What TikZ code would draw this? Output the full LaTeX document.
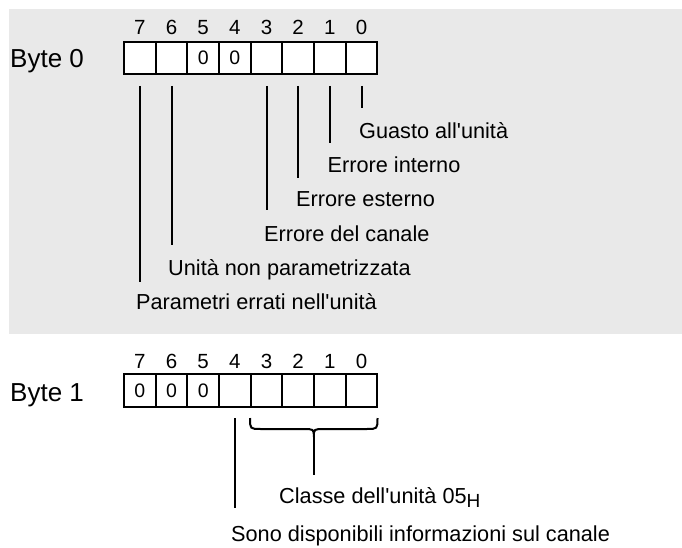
\documentclass[tikz,border=0pt]{standalone}
\usepackage{fontspec}
\setmainfont{Liberation Sans}
\definecolor{bggray}{HTML}{E9E9E9}
\newcommand{\apos}{\textquotesingle}
\begin{document}
\begin{tikzpicture}[x=1pt,y=-1pt,
  cell/.style={draw=black, line width=1.9, fill=white, minimum width=31.67, minimum height=32, inner sep=0,
     font=\fontsize{19.5}{19.5}\selectfont, text height=14, text depth=0},
  bitnum/.style={anchor=base, inner sep=0, font=\fontsize{20.5}{20.5}\selectfont},
  bytelbl/.style={anchor=base west, inner sep=0, font=\fontsize{26}{26}\selectfont},
  lbl/.style={anchor=base west, inner sep=0, font=\fontsize{21.7}{21.7}\selectfont},
  tick/.style={draw=black, line width=2}]
\useasboundingbox (0,0) rectangle (682,548);
\fill[bggray] (9,9) rectangle (682,334);

% Byte 0
\node[bytelbl] (byte0) at (10,67.3) {Byte 0};
\node[cell] (a7) at (139.83,58) {};
\node[cell] (a6) at (171.5,58) {};
\node[cell] (a5) at (203.17,58) {0};
\node[cell] (a4) at (234.83,58) {0};
\node[cell] (a3) at (266.5,58) {};
\node[cell] (a2) at (298.17,58) {};
\node[cell] (a1) at (329.83,58) {};
\node[cell] (a0) at (361.5,58) {};
\foreach \b in {7,6,5,4,3,2,1,0}{
  \node[bitnum] (na\b) at (a\b.center |- 0,34.3) {\b};
}

\coordinate (e7) at (a7.center |- 0,282);
\coordinate (e6) at (a6.center |- 0,245);
\coordinate (e3) at (a3.center |- 0,210);
\coordinate (e2) at (a2.center |- 0,178);
\coordinate (e1) at (a1.center |- 0,143);
\coordinate (e0) at (a0.center |- 0,108);
\foreach \b in {7,6,3,2,1,0}{
  \draw[tick] ([yshift=-11pt]a\b.south) -- (e\b);
}

\node[lbl] (l0) at (359,138.5) {Guasto all\apos unità};
\node[lbl] (l1) at (327.5,172.5) {Errore interno};
\node[lbl] (l2) at (296,206.5) {Errore esterno};
\node[lbl] (l3) at (264,241.5) {Errore del canale};
\node[lbl] (l6) at (168,275.5) {Unità non parametrizzata};
\node[lbl] (l7) at (136,309.5) {Parametri errati nell\apos unità};

% Byte 1
\node[bytelbl] (byte1) at (10,401.7) {Byte 1};
\node[cell, minimum height=33] (b7) at (139.83,390.8) {0};
\node[cell, minimum height=33] (b6) at (171.5,390.8) {0};
\node[cell, minimum height=33] (b5) at (203.17,390.8) {0};
\node[cell, minimum height=33] (b4) at (234.83,390.8) {};
\node[cell, minimum height=33] (b3) at (266.5,390.8) {};
\node[cell, minimum height=33] (b2) at (298.17,390.8) {};
\node[cell, minimum height=33] (b1) at (329.83,390.8) {};
\node[cell, minimum height=33] (b0) at (361.5,390.8) {};
\foreach \b in {7,6,5,4,3,2,1,0}{
  \node[bitnum] (nb\b) at (b\b.center |- 0,368) {\b};
}

\coordinate (f4) at (b4.center |- 0,508);
\draw[tick] ([yshift=-10pt]b4.south) -- (f4);

\coordinate (brL) at (250,418);
\coordinate (brR) at (377.5,418);
\coordinate (brT) at (313.8,437);
\coordinate (brE) at (313.8,475);
\draw[tick] (brL) .. controls (250,429) .. (261,429) -- (303,429)
  .. controls (313.8,429) .. (brT) .. controls (313.8,429) .. (324.5,429)
  -- (366.5,429) .. controls (377.5,429) .. (brR);
\draw[tick] (brT) -- (brE);

\node[lbl] (l8) at (279,503) {Classe dell\apos unità 05\raisebox{-4pt}{\fontsize{19}{19}\selectfont H}};
\node[lbl] (l9) at (231,541) {Sono disponibili informazioni sul canale};
\end{tikzpicture}
\end{document}
